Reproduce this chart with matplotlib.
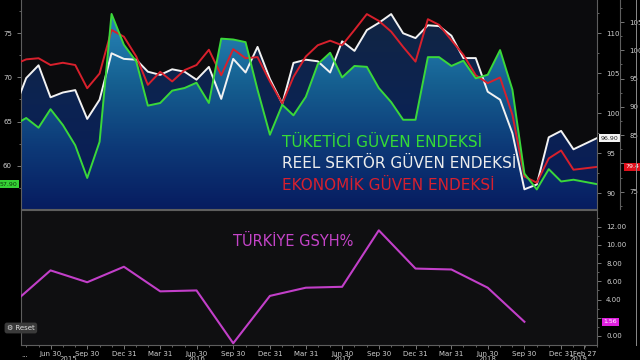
import numpy as np
import pandas as pd
import matplotlib
matplotlib.use("Agg")
import matplotlib.pyplot as plt
import matplotlib.transforms as mtransforms
from matplotlib.colors import LinearSegmentedColormap
from matplotlib.ticker import MultipleLocator, FixedLocator, FuncFormatter
from matplotlib.lines import Line2D

# --- Data ---
# monthly readings Mar 2015 .. Feb 2019; the latest one sits on the right edge
month_dates = list(pd.date_range("2015-03-31", periods=47, freq=pd.offsets.MonthEnd())) \
    + [pd.Timestamp("2019-03-31")]

consumer = [64.6, 65.4, 64.3, 66.4, 64.6, 62.3, 58.6, 62.7, 77.2, 73.7,
            71.8, 66.8, 67.1, 68.5, 68.8, 69.4, 67.1, 74.4, 74.3, 74.0, 68.6, 63.5,
            66.9, 65.7, 67.8, 71.5, 72.8, 70.0, 71.3, 71.2, 68.8, 67.2, 65.2, 65.2,
            72.3, 72.3, 71.3, 71.9, 69.9, 70.3, 73.1, 68.6, 59.1, 57.3, 59.6, 58.2,
            58.4, 57.9]

real_sector = [100.5, 104.4, 106.0, 102.0, 102.6, 102.9, 99.3, 101.7, 107.5, 106.8,
               106.7, 105.2, 104.8, 105.5, 105.2, 104.2, 105.8, 101.8, 106.8, 105.1, 108.3, 104.3,
               101.2, 106.3, 106.7, 106.5, 105.1, 109.0, 107.8, 110.4, 111.3, 112.4, 110.0, 109.4,
               111.0, 110.9, 109.7, 106.9, 106.9, 102.7, 101.7, 97.5, 90.5, 91.1, 97.0, 97.8,
               95.5, 96.9]

economic = [97.5, 98.4, 98.6, 97.4, 97.8, 97.4, 93.3, 95.9, 103.6, 102.4,
            98.9, 93.9, 96.2, 94.5, 96.5, 97.4, 100.1, 95.6, 100.2, 98.6, 98.8, 94.5,
            90.6, 95.3, 98.9, 100.9, 101.7, 100.9, 103.6, 106.4, 105.2, 103.3, 100.6, 98.0,
            105.5, 104.5, 101.8, 99.2, 95.6, 94.2, 95.2, 88.6, 77.7, 76.6, 80.9, 82.3,
            78.9, 79.4]

gdp_dates = pd.date_range("2015-03-31", periods=15, freq=pd.offsets.QuarterEnd(startingMonth=3))
gdp = [3.7, 7.2, 5.9, 7.6, 4.9, 5.0, -0.8, 4.4, 5.3, 5.4, 11.6, 7.4, 7.3, 5.3, 1.56]

x_tick_dates = list(pd.date_range("2015-06-30", "2018-12-31", freq=pd.offsets.QuarterEnd(startingMonth=3))) \
    + [pd.Timestamp("2019-02-27")]
year_labels = ["2015", "2016", "2017", "2018", "2019"]
year_dates = pd.to_datetime(["2015-08-15", "2016-06-30", "2017-06-30", "2018-06-30", "2019-02-12"])

# --- Styles ---
GREEN = "#3ad83a"
WHITE = "#f2f2f2"
RED = "#d8202c"
MAGENTA = "#c23fc9"
TICK_C = "#8a8a8a"
LABEL_C = "#d0d0d0"
SPINE_C = "#5e5e5e"

plt.rcParams['font.family'] = ['DejaVu Sans']

fig = plt.figure(figsize=(6.4, 3.6), dpi=100, facecolor="black")
L, R = 21 / 640, 597 / 640
ax = fig.add_axes([L, 151 / 360, R - L, 209 / 360])
axb = fig.add_axes([L, 15 / 360, R - L, 135 / 360])
axw = ax.twinx()
axr = ax.twinx()
axr.spines["right"].set_position(("outward", 16.6))

xlim = (pd.Timestamp("2015-04-17"), pd.Timestamp("2019-03-31"))
for a in (ax, axb):
    a.set_xlim(xlim)
ax.set_ylim(55.08, 78.78)
axw.set_ylim(88.04, 114.16)
axr.set_ylim(71.96, 108.89)
axb.set_ylim(-0.99, 13.83)

ax.set_facecolor("#0b0b0d")
axb.set_facecolor("#0f0f11")

# --- Area fills (all drawn in ax so that layering can be controlled) ---
grad = np.linspace(0, 1, 256).reshape(-1, 1)
cmap_white = LinearSegmentedColormap.from_list("wfill", ["#081b58", "#0c2352", "#122540"])
cmap_green = LinearSegmentedColormap.from_list(
    "gfill", [(0, "#071c60"), (0.3, "#0d3a78"), (0.6, "#155f90"), (1.0, "#2b8fc2")])

poly_w = ax.fill_between(month_dates, real_sector, axw.get_ylim()[0],
                         transform=axw.transData, facecolor="none", edgecolor="none")
im_w = ax.imshow(grad, cmap=cmap_white, extent=[0, 1, 0, 1], transform=ax.transAxes,
                 aspect="auto", origin="lower", zorder=1)
im_w.set_clip_path(poly_w.get_paths()[0], poly_w.get_transform())

poly_g = ax.fill_between(month_dates, consumer, ax.get_ylim()[0],
                         facecolor="none", edgecolor="none")
im_g = ax.imshow(grad, cmap=cmap_green, extent=[0, 1, 0, 1], transform=ax.transAxes,
                 aspect="auto", origin="lower", zorder=2)
im_g.set_clip_path(poly_g.get_paths()[0], poly_g.get_transform())

# --- Lines ---
ax.plot(month_dates, real_sector, color=WHITE, lw=1.4, transform=axw.transData, zorder=4)
ax.plot(month_dates, economic, color=RED, lw=1.4, transform=axr.transData, zorder=5)
ax.plot(month_dates, consumer, color=GREEN, lw=1.4, zorder=6)
axb.plot(gdp_dates, gdp, color=MAGENTA, lw=1.5, zorder=4)

ax.set_xlim(xlim)
ax.set_ylim(55.08, 78.78)

# --- Axes styling ---
for a in (ax, axw, axr, axb):
    for s in a.spines.values():
        s.set_color(SPINE_C)
        s.set_linewidth(0.8)
    a.tick_params(colors=TICK_C, labelcolor=LABEL_C, labelsize=5, length=3, width=0.6)
    a.tick_params(which="minor", colors=TICK_C, length=1.5, width=0.5)

ax.spines["top"].set_visible(False)
ax.spines["right"].set_visible(False)
for a in (axw, axr):
    for side in ("top", "left", "bottom"):
        a.spines[side].set_visible(False)
ax.tick_params(axis="x", which="both", bottom=False, labelbottom=False)

ax.yaxis.set_major_locator(FixedLocator([60, 65, 70, 75]))
ax.yaxis.set_minor_locator(MultipleLocator(2.5))
axw.yaxis.set_major_locator(FixedLocator([90, 95, 100, 105, 110]))
axw.yaxis.set_minor_locator(MultipleLocator(2.5))
# the 80 label sits under the last-value tag, as in the reference
axr.yaxis.set_major_locator(FixedLocator([75, 80, 85, 90, 95, 100, 105]))
axr.yaxis.set_major_formatter(FuncFormatter(lambda v, p: "" if v == 80 else f"{v:.0f}"))
axr.yaxis.set_minor_locator(MultipleLocator(2.5))

axb.yaxis.tick_right()
axb.yaxis.set_major_locator(MultipleLocator(2))
axb.yaxis.set_minor_locator(MultipleLocator(1))
axb.yaxis.set_major_formatter(FuncFormatter(lambda v, p: "" if abs(v - 2) < 1e-9 else f"{v:.2f}"))
axb.set_xticks(x_tick_dates)
axb.set_xticklabels([d.strftime("%b %d") for d in x_tick_dates])
axb.set_xticks(pd.date_range("2015-04-30", "2019-03-31", freq=pd.offsets.MonthEnd()), minor=True)
axb.tick_params(axis="x", which="both", pad=1.5)

axb.text(4 / 576, -0.055, "...", transform=axb.transAxes, color=LABEL_C,
         fontsize=5, ha="center", va="top")
ytrans = mtransforms.blended_transform_factory(axb.transData, axb.transAxes)
for lab, d in zip(year_labels, year_dates):
    axb.text(d, -0.085, lab, transform=ytrans, color=LABEL_C, fontsize=5, ha="center", va="top",
             clip_on=False)

# --- Series titles ---
ax.text(0.453, 0.297, "TÜKETİCİ GÜVEN ENDEKSİ", transform=ax.transAxes, color="#35dc35",
        fontsize=11, va="baseline", zorder=8)
ax.text(0.453, 0.196, "REEL SEKTÖR GÜVEN ENDEKSİ", transform=ax.transAxes, color="#ececec",
        fontsize=11, va="baseline", zorder=8)
ax.text(0.453, 0.091, "EKONOMİK GÜVEN ENDEKSİ", transform=ax.transAxes, color="#d8202e",
        fontsize=11, va="baseline", zorder=8)
axb.text(0.368, 0.733, "TÜRKİYE GSYH%", transform=axb.transAxes, color="#c444c8",
         fontsize=10.5, va="baseline")

# --- Last value tags ---
def tag(a, xfrac, val, text, fc, tc):
    tr = mtransforms.blended_transform_factory(a.transAxes, a.transData)
    a.text(xfrac, val, text, transform=tr, fontsize=4.5, color=tc, ha="center", va="center",
           clip_on=False, zorder=10,
           bbox=dict(boxstyle="square,pad=0.25", fc=fc, ec="none"))

tag(ax, -0.0215, consumer[-1], f"{consumer[-1]:.2f}", "#35d035", "#0a3a0a")
tag(axw, 1.021, real_sector[-1], f"{real_sector[-1]:.2f}", "#f4f4f4", "#202020")
tag(axr, 1.062, economic[-1], f"{economic[-1]:.1f}", "#e0101c", "white")
tag(axb, 1.023, gdp[-1], f"{gdp[-1]:.2f}", "#e020e0", "white")

# --- Decorations ---
fig.text(7 / 640, 1 - 328 / 360, "\u2699 Reset", fontsize=5, color="#e0e0e0", va="center",
         bbox=dict(boxstyle="round,pad=0.35", fc="#3a3a3a", ec="none"))
fig.add_artist(Line2D([636 / 640] * 2, [15 / 360, 1], transform=fig.transFigure,
                      color="#8a8a8a", lw=0.7))

fig.savefig("out.png", dpi=100, facecolor="black")
